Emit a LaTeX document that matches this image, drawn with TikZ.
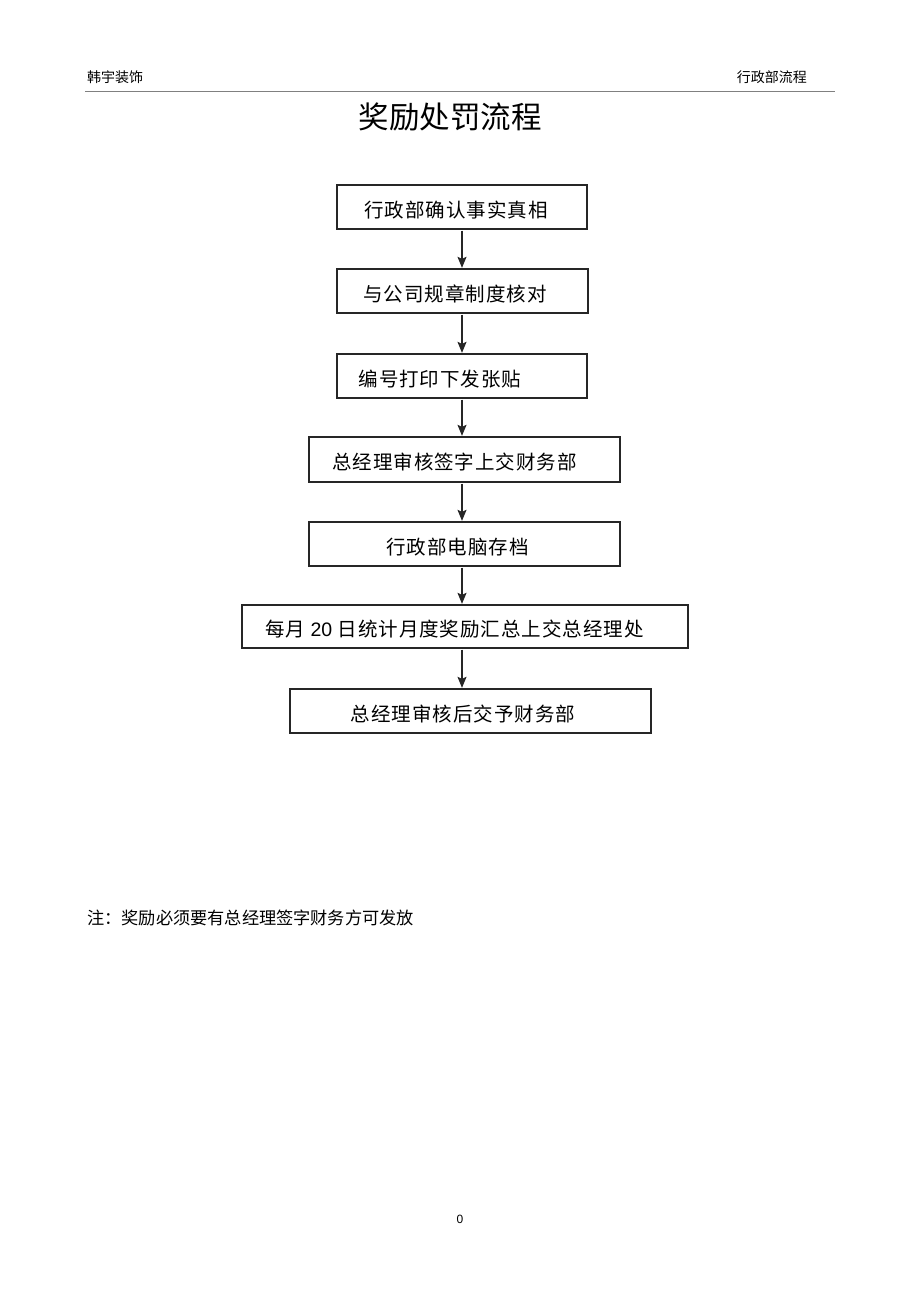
\documentclass[tikz,border=0pt]{standalone}
\usepackage{fontspec}
\setmainfont{Liberation Sans}
\newfontfamily\cjk{Noto Sans CJK SC}
\newfontfamily\cjkwide[LetterSpace=5]{Noto Sans CJK SC}
\usetikzlibrary{arrows.meta,calc}
\begin{document}
\begin{tikzpicture}[x=1pt,y=-1pt,
  stepbox/.style={draw=black!85,line width=1.3pt,inner sep=0pt},
  boxtxt/.style={font=\cjkwide\fontsize{19.5}{22}\selectfont,inner sep=0pt,anchor=center},
  arr/.style={draw=black!85,line width=1.3pt,-{Stealth[length=11pt,width=9pt,inset=2pt]},shorten <=1pt,shorten >=0.5pt},
  hdr/.style={font=\cjk\fontsize{14}{16}\selectfont,inner sep=0pt}]
\useasboundingbox (0,0) rectangle (920,1304);
% header
\node[hdr,anchor=west] (h1) at (87,77) {韩宇装饰};
\node[hdr,anchor=east] (h2) at (807,77) {行政部流程};
\coordinate (l1) at (85,91);
\coordinate (l2) at (835,91);
\draw[black!50,line width=0.8pt] (l1) -- (l2);
% title
\node[font=\cjk\fontsize{30.5}{34}\selectfont,inner sep=0pt] (title) at (450,117) {奖励处罚流程};
% boxes
\node[stepbox,minimum width=250,minimum height=44] (b1) at (462,207) {};
\node[stepbox,minimum width=251,minimum height=44] (b2) at (462.5,291) {};
\node[stepbox,minimum width=250,minimum height=44] (b3) at (462,376) {};
\node[stepbox,minimum width=311,minimum height=45] (b4) at (464.5,459.5) {};
\node[stepbox,minimum width=311,minimum height=44] (b5) at (464.5,544) {};
\node[stepbox,minimum width=446,minimum height=43] (b6) at (465,626.5) {};
\node[stepbox,minimum width=361,minimum height=44] (b7) at (470.5,711) {};
% texts
\node[boxtxt] (t1) at ($(b1.center)+(-6,3)$) {行政部确认事实真相};
\node[boxtxt] (t2) at ($(b2.center)+(-7.5,3)$) {与公司规章制度核对};
\node[boxtxt] (t3) at ($(b3.center)+(-22,3)$) {编号打印下发张贴};
\node[boxtxt] (t4) at ($(b4.center)+(-10,3)$) {总经理审核签字上交财务部};
\node[boxtxt] (t5) at ($(b5.center)+(-7,3)$) {行政部电脑存档};
\node[boxtxt] (t6) at ($(b6.center)+(-10.5,3)$) {每月 {\addfontfeature{LetterSpace=0}\fontspec{Liberation Sans}\fontsize{19.5}{22}\selectfont 20} 日统计月度奖励汇总上交总经理处};
\node[boxtxt] (t7) at ($(b7.center)+(-7.5,3)$) {总经理审核后交予财务部};
% arrows
\coordinate (ax) at (462,0);
\draw[arr] (b1.south -| ax) -- (b2.north -| ax);
\draw[arr] (b2.south -| ax) -- (b3.north -| ax);
\draw[arr] (b3.south -| ax) -- (b4.north -| ax);
\draw[arr] (b4.south -| ax) -- (b5.north -| ax);
\draw[arr] (b5.south -| ax) -- (b6.north -| ax);
\draw[arr] (b6.south -| ax) -- (b7.north -| ax);
% note
\node[font=\cjk\fontsize{17.2}{20}\selectfont,inner sep=0pt,anchor=west] (note) at (87,918) {注：奖励必须要有总经理签字财务方可发放};
% page number
\node[font=\fontsize{12}{14}\selectfont,inner sep=0pt] (pg) at (460,1219) {0};
\end{tikzpicture}
\end{document}
